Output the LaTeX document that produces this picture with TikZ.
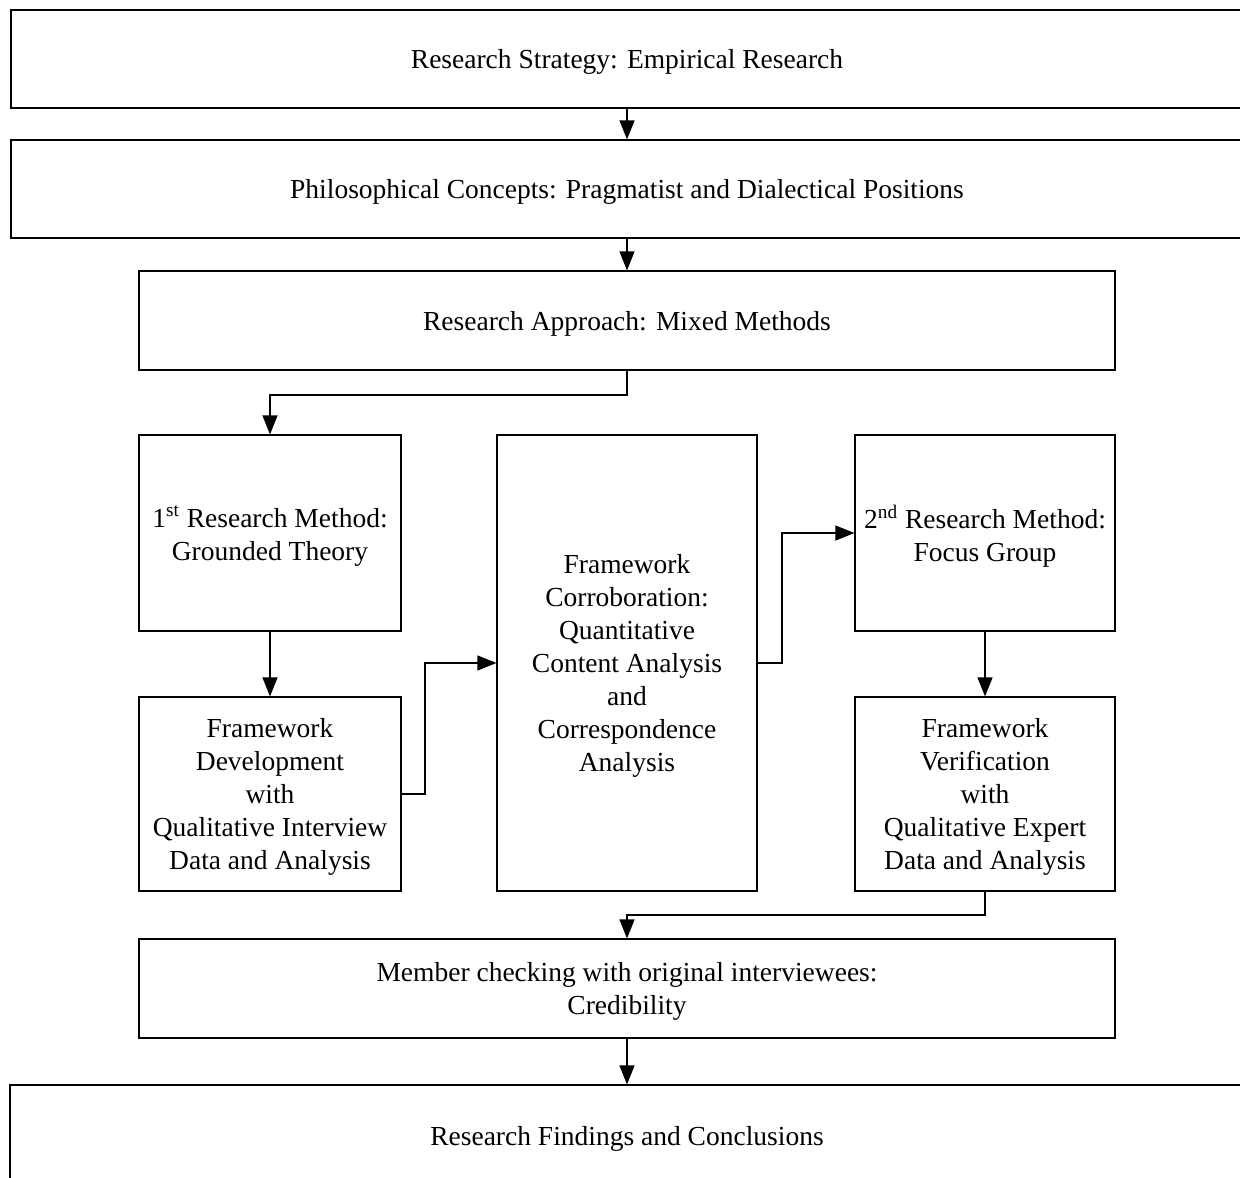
\documentclass[tikz,border=0pt]{standalone}
\usepackage{fontspec}
\setmainfont{Liberation Serif}
\usetikzlibrary{arrows.meta}
% a framed stage: #1 name, #2 width, #3 height, #4 centre, #5 text
\newcommand\stage[5]{%
  \node[box, minimum width=#2, minimum height=#3] (#1) at #4 {};
  \node[txt] (#1-t) at ([yshift=-1.5pt]#1.center) {#5};}
\begin{document}
\begin{tikzpicture}[x=0.5pt,y=-0.5pt,
  box/.style={draw, line width=0.6pt, rectangle, inner sep=0pt},
  txt/.style={inner sep=0pt, align=center, font=\fontsize{13.75}{16.5}\selectfont},
  flow/.style={line width=0.6pt, -{Triangle[length=9.5pt,width=7.5pt]}}]
\useasboundingbox (0,0) rectangle (1240,1177);

% stacked stages
\stage{strat}{616pt}{49pt}{(627,59)}
  {Research Strategy: Empirical Research}
\stage{phil}{616pt}{49pt}{(627,189)}
  {Philosophical Concepts: Pragmatist and Dialectical Positions}
\stage{appr}{488pt}{49.5pt}{(627,320.5)}
  {Research Approach: Mixed Methods}

% method columns
\stage{gt}{131pt}{98pt}{(270,533)}
  {1\textsuperscript{st} Research Method:\\Grounded Theory}
\stage{dev}{131pt}{97pt}{(270,794)}
  {Framework\\Development\\with\\Qualitative Interview\\Data and Analysis}
\stage{corr}{130pt}{228pt}{(627,663)}
  {Framework\\Corroboration:\\Quantitative\\Content Analysis\\and\\Correspondence\\Analysis}
\stage{fg}{130pt}{98pt}{(985,533)}
  {2\textsuperscript{nd} Research Method:\\Focus Group}
\stage{ver}{130pt}{97pt}{(985,794)}
  {Framework\\Verification\\with\\Qualitative Expert\\Data and Analysis}

% closing stages
\stage{mem}{488pt}{49.5pt}{(627,988.5)}
  {Member checking with original interviewees:\\Credibility}
\stage{find}{617pt}{51pt}{(627,1136)}
  {Research Findings and Conclusions}

% bend points
\coordinate (c1) at (627,395);
\coordinate (c2) at (425,794);
\coordinate (c3) at (782,663);
\coordinate (c4) at (985,915);

% connectors
\draw[flow] (strat.south) -- (phil.north);
\draw[flow] (phil.south) -- (appr.north);
\draw[flow] (appr.south) -- (c1) -| (gt.north);
\draw[flow] (gt.south) -- (dev.north);
\draw[flow] (dev.east) -- (c2) |- (corr.west);
\draw[flow] (corr.east) -- (c3) |- (fg.west);
\draw[flow] (fg.south) -- (ver.north);
\draw[flow] (ver.south) -- (c4) -| (mem.north);
\draw[flow] (mem.south) -- (find.north);
\end{tikzpicture}
\end{document}
